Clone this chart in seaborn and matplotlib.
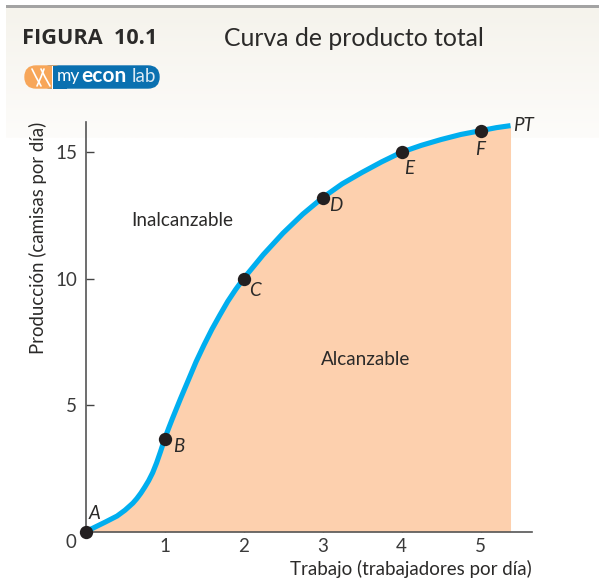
import numpy as np
import pandas as pd
import matplotlib
matplotlib.use("Agg")
import matplotlib.pyplot as plt
from matplotlib.patches import FancyBboxPatch, Rectangle
import seaborn as sns

curve_x = [0, 0.1, 0.25, 0.4, 0.5, 0.6, 0.65, 0.7, 0.75, 0.8, 0.85, 0.9, 0.95, 1, 1.05, 1.1, 1.2, 1.3, 1.4, 1.5, 1.6,
           1.7, 1.8, 1.9, 2, 2.25, 2.5, 2.75, 3, 3.25, 3.5, 3.75, 4, 4.25, 4.5, 4.75, 5, 5.2, 5.38]
curve_y = [0, 0.15, 0.38, 0.62, 0.85, 1.13, 1.31, 1.52, 1.76, 2.02, 2.33, 2.72, 3.17, 3.65, 4.07, 4.47, 5.24, 5.98, 6.72, 7.38, 8.0,
           8.56, 9.1, 9.57, 10, 10.95, 11.8, 12.55, 13.2, 13.75, 14.2, 14.62, 15, 15.27, 15.5, 15.7, 15.85, 15.97, 16.05]
point_x = [0, 1, 2, 3, 4, 5]
point_y = [0, 3.65, 10, 13.2, 15, 15.85]
point_names = ["A", "B", "C", "D", "E", "F"]
x_ticks = [1, 2, 3, 4, 5]
y_ticks = [5, 10, 15]

sns.set_theme(style="white")
plt.rcParams['font.family'] = ['Lato', 'DejaVu Sans']

W, H = 599, 582
fig = plt.figure(figsize=(W / 100, H / 100), dpi=100)

# fondo beige arriba que se va a blanco
bg = fig.add_axes([0, 0, 1, 1], zorder=0)
bg.axis("off")
grad = np.linspace(0, 1, 100).reshape(-1, 1)
cmap = matplotlib.colors.LinearSegmentedColormap.from_list("bg", ["#f5f3ec", "#fdfcfa"])
bg.imshow(grad, extent=[6, W, 138, 8], cmap=cmap, aspect="auto", origin="upper")
bg.set_xlim(0, W)
bg.set_ylim(H, 0)
bg.add_patch(Rectangle((6, 5), W - 6, 3, color="#a3a3a3", lw=0))

bg.text(22, 39, "FIGURA  10.1", fontsize=15.6, fontweight="bold", family="Open Sans", color="#2b2a29", va="center")
bg.text(224, 38.5, "Curva de producto total", fontsize=17.85, color="#2b2a29", va="center")

# logo
bg.add_patch(FancyBboxPatch((40, 66), 119, 22, boxstyle="round,pad=0,rounding_size=11", fc="#0a70b0", ec="#0a70b0", lw=1))
bg.add_patch(FancyBboxPatch((25, 66), 40, 22, boxstyle="round,pad=0,rounding_size=11", fc="#f7a659", ec="#f7a659", lw=1))
bg.add_patch(Rectangle((52.5, 65.5), 14, 23, color="#0a70b0", lw=0))
bg.add_patch(Rectangle((52, 65.5), 1, 23, color="#ffffff", lw=0))
bg.plot([32, 36, 41], [69, 77, 86], color="white", lw=1.2)
bg.plot([37, 41, 44], [86, 77, 69], color="white", lw=1.2)
bg.plot([41, 45, 50], [69, 77, 86], color="white", lw=1.2)
bg.text(57, 76.5, "my", fontsize=12.5, color="white", va="center")
bg.text(81, 76.5, "econ", fontsize=15, color="white", va="center", fontweight="bold")
bg.text(131.5, 76.5, "lab", fontsize=13.5, color="#dbe9f4", va="center")
bg.set_xlim(0, W)
bg.set_ylim(H, 0)

x0, y0 = 85.5, 531.7
x1, y1 = 532, 122
ax = fig.add_axes([x0 / W, 1 - y0 / H, (x1 - x0) / W, (y0 - y1) / H], zorder=2)
ax.patch.set_alpha(0)
ax.set_xlim(0, (x1 - x0) / 79)
ax.set_ylim(0, (y0 - y1) / 25.3)

df = pd.DataFrame({"x": curve_x, "y": curve_y})
ax.fill_between(df["x"], df["y"], color="#fdd0ae", lw=0, zorder=1)
sns.lineplot(data=df, x="x", y="y", color="#00aeef", lw=3.7, ax=ax, zorder=3, clip_on=False,
             solid_capstyle="butt", errorbar=None, estimator=None, sort=False)
sns.scatterplot(x=point_x, y=point_y, color="#231f20", s=92, ax=ax, zorder=4, clip_on=False, linewidth=0)

for s in ["top", "right"]:
    ax.spines[s].set_visible(False)
for s in ["left", "bottom"]:
    ax.spines[s].set_color("#555555")
    ax.spines[s].set_linewidth(1.2)
    ax.spines[s].set_zorder(2)

ax.set_xticks(x_ticks)
ax.set_yticks(y_ticks)
ax.tick_params(axis="both", direction="in", length=6, width=1, color="#444444", labelsize=13.5,
               labelcolor="#3a3a3a", left=True, bottom=True)
ax.tick_params(axis="x", pad=4.5)
ax.tick_params(axis="y", pad=6)
ax.set_xlabel("")
ax.set_ylabel("")

label_col = "#2b2a29"
bg.text(71, 543, "0", fontsize=13.5, color="#3a3a3a", ha="center", va="center")
bg.text(290, 569, "Trabajo (trabajadores por día)", fontsize=13.5, color=label_col, va="center")
bg.text(38, 238, "Producción (camisas por día)", fontsize=13.45, color=label_col, rotation=90, ha="center", va="center")
bg.text(182.5, 220, "Inalcanzable", fontsize=13.6, color=label_col, ha="center", va="center")

ax.text(3.55, 6.8, "Alcanzable", fontsize=13.6, color=label_col, ha="center", va="center", zorder=5)

offsets = [(9, 18), (14, -7), (11, -12), (13, -8), (8, -16), (0, -19)]
for name, xv, yv, (dx, dy) in zip(point_names, point_x, point_y, offsets):
    ax.annotate(name, (xv, yv), xytext=(dx * 0.72, dy * 0.72), textcoords="offset points", fontsize=13.5,
                style="italic", color=label_col, ha="center", va="center", zorder=5, annotation_clip=False)
ax.annotate("PT", (curve_x[-1], curve_y[-1]), xytext=(1.5, 0), textcoords="offset points", fontsize=13.5,
            style="italic", color=label_col, va="center", zorder=5, annotation_clip=False)

fig.savefig("out.png", dpi=100)
